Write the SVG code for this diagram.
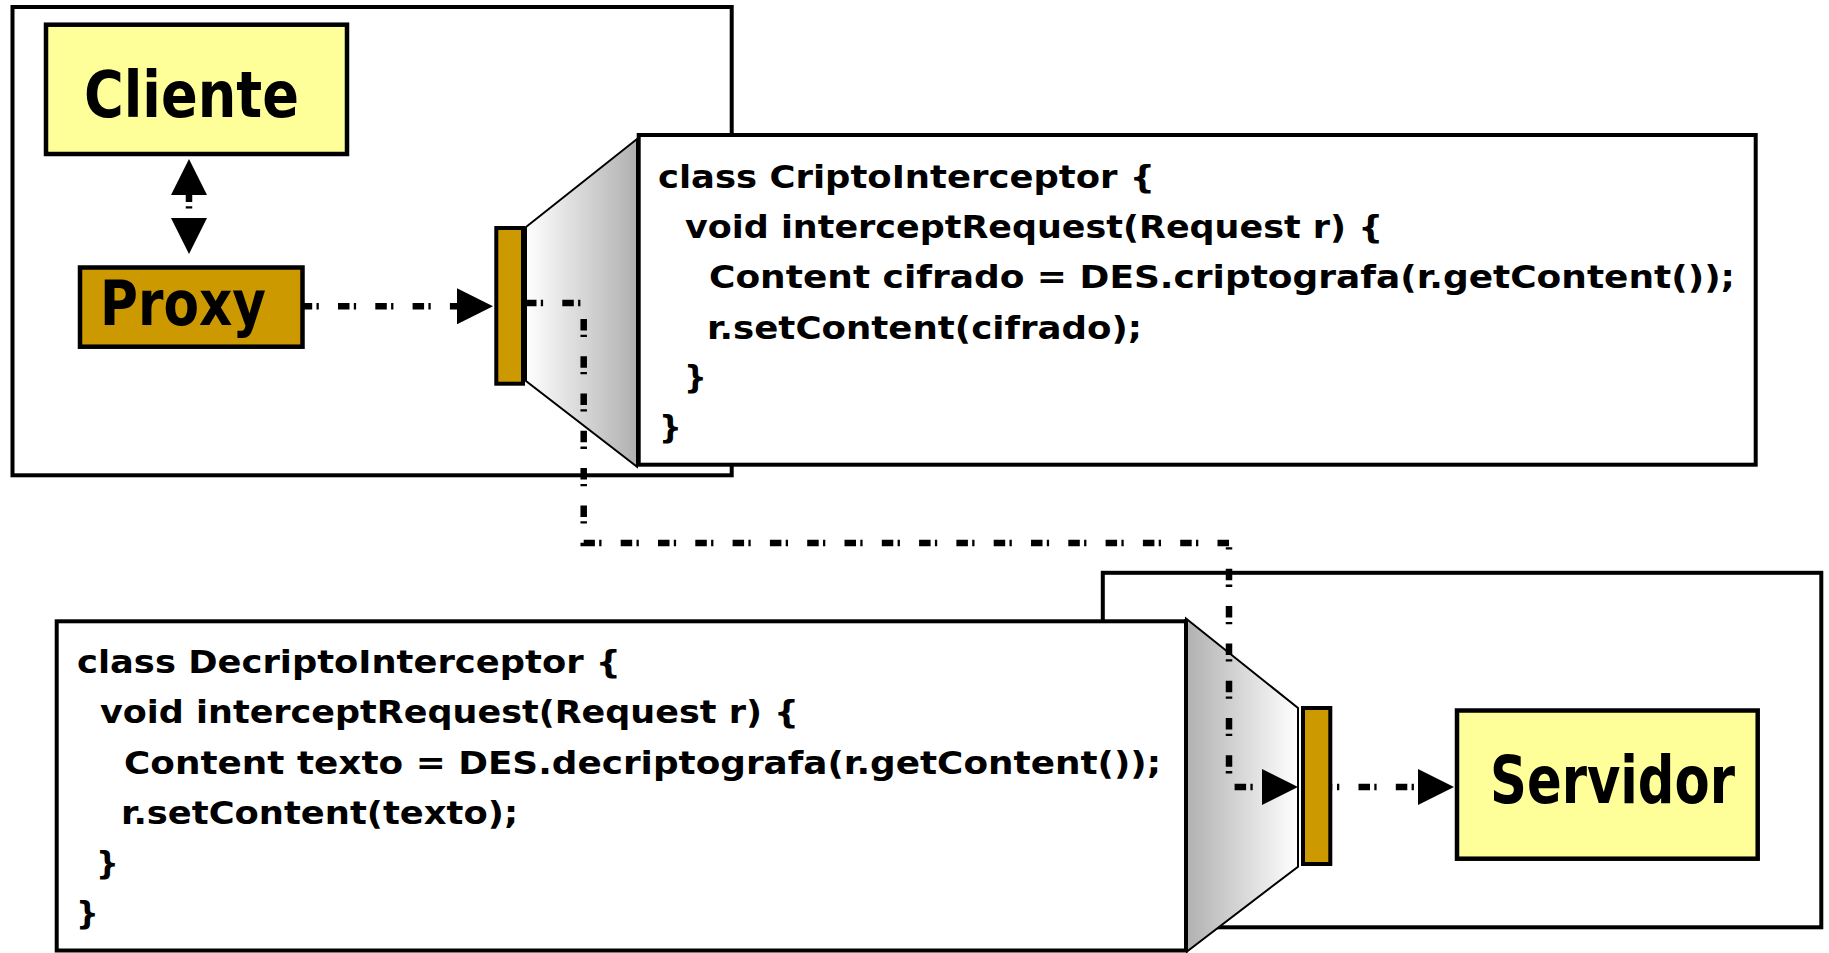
<svg xmlns="http://www.w3.org/2000/svg" width="1829" height="953" viewBox="0 0 1829 953">
  <style>
    .frame { fill: #ffffff; stroke: #000000; stroke-width: 4; }
    .code-box { fill: #ffffff; stroke: #000000; stroke-width: 4; }
    .light { fill: #ffff99; stroke: #000000; stroke-width: 4.5; }
    .gold { fill: #cc9900; stroke: #000000; stroke-width: 4.5; }
    .bar { fill: #cc9900; stroke: #000000; stroke-width: 4; }
    .funnel { stroke: #000000; stroke-width: 2; stroke-linejoin: miter; }
    .label { font-family: "DejaVu Sans", "Liberation Sans", sans-serif; font-weight: bold; fill: #000000; }
    .code { font-family: "DejaVu Sans", "Liberation Sans", sans-serif; font-weight: bold; font-size: 32px; fill: #000000; }
    .flow { fill: none; stroke: #000000; stroke-width: 6.5; stroke-linecap: butt; stroke-dasharray: 11.5 4.3 2.3 19.2; }
  </style>
  <defs>
    <marker id="head" markerUnits="userSpaceOnUse" viewBox="0 0 36 36" markerWidth="36" markerHeight="36" refX="0" refY="18" orient="auto-start-reverse">
      <path d="M0,0 L36,18 L0,36 Z" fill="#000000"/>
    </marker>
    <linearGradient id="fade-right" gradientUnits="userSpaceOnUse" x1="526" y1="0" x2="637" y2="0">
      <stop offset="0" stop-color="#ffffff"/>
      <stop offset="1" stop-color="#b0b0b0"/>
    </linearGradient>
    <linearGradient id="fade-left" gradientUnits="userSpaceOnUse" x1="1186" y1="0" x2="1298" y2="0">
      <stop offset="0" stop-color="#b0b0b0"/>
      <stop offset="1" stop-color="#ffffff"/>
    </linearGradient>
  </defs>

  <!-- client side container -->
  <g id="client-host">
    <rect class="frame" x="12.5" y="7" width="719.2" height="468.3"/>
  </g>

  <!-- server side container -->
  <g id="server-host">
    <rect class="frame" x="1102.8" y="572.8" width="718.5" height="354.5"/>
  </g>

  <!-- encrypting interceptor -->
  <g id="cripto-interceptor">
    <polygon class="funnel" fill="url(#fade-right)" points="526,227 637,139 637,466.7 526,381"/>
    <rect class="code-box" x="638.7" y="135" width="1117" height="329.7"/>
    <text class="code" x="658" y="188" textLength="497" lengthAdjust="spacingAndGlyphs">class CriptoInterceptor {</text>
    <text class="code" x="685" y="238" textLength="698" lengthAdjust="spacingAndGlyphs">void interceptRequest(Request r) {</text>
    <text class="code" x="709" y="288" textLength="1026" lengthAdjust="spacingAndGlyphs">Content cifrado = DES.criptografa(r.getContent());</text>
    <text class="code" x="707" y="339" textLength="435" lengthAdjust="spacingAndGlyphs">r.setContent(cifrado);</text>
    <text class="code" x="684" y="388">}</text>
    <text class="code" x="659" y="438">}</text>
    <rect class="bar" x="496.3" y="228" width="26.7" height="155.7"/>
  </g>

  <!-- decrypting interceptor -->
  <g id="decripto-interceptor">
    <rect class="code-box" x="56.7" y="621.3" width="1129.3" height="329.2"/>
    <polygon class="funnel" fill="url(#fade-left)" points="1186,618.5 1298,708 1298,866.7 1187,951.5"/>
    <line x1="1186" y1="619.3" x2="1186" y2="951.5" stroke="#000000" stroke-width="4"/>
    <text class="code" x="77" y="673" textLength="544" lengthAdjust="spacingAndGlyphs">class DecriptoInterceptor {</text>
    <text class="code" x="100" y="723" textLength="699" lengthAdjust="spacingAndGlyphs">void interceptRequest(Request r) {</text>
    <text class="code" x="124" y="774" textLength="1037" lengthAdjust="spacingAndGlyphs">Content texto = DES.decriptografa(r.getContent());</text>
    <text class="code" x="121" y="824" textLength="397" lengthAdjust="spacingAndGlyphs">r.setContent(texto);</text>
    <text class="code" x="96" y="874">}</text>
    <text class="code" x="76" y="924">}</text>
    <rect class="bar" x="1303" y="708" width="27.3" height="156"/>
  </g>

  <g id="cliente">
    <rect class="light" x="46" y="24.7" width="301" height="129.3"/>
    <text class="label" x="84" y="117" font-size="64" textLength="215" lengthAdjust="spacingAndGlyphs">Cliente</text>
  </g>

  <g id="proxy">
    <rect class="gold" x="80" y="267.5" width="222.5" height="79.2"/>
    <text class="label" x="100" y="325" font-size="62" textLength="166" lengthAdjust="spacingAndGlyphs">Proxy</text>
  </g>

  <g id="servidor">
    <rect class="light" x="1457" y="710.5" width="300.7" height="148.2"/>
    <text class="label" x="1490" y="803" font-size="65" textLength="245" lengthAdjust="spacingAndGlyphs">Servidor</text>
  </g>

  <!-- request flow -->
  <g id="connectors">
    <line class="flow" x1="189" y1="195" x2="189" y2="218" stroke-dashoffset="4.5" marker-start="url(#head)" marker-end="url(#head)"/>
    <line class="flow" x1="303" y1="306.3" x2="457" y2="306.3" stroke-dashoffset="2.3" marker-end="url(#head)"/>
    <polyline class="flow" points="525,303 583.7,303 583.7,543 1229,543 1229,787 1262,787" marker-end="url(#head)"/>
    <line class="flow" x1="1332.5" y1="787" x2="1418" y2="787" stroke-dashoffset="11.3" marker-end="url(#head)"/>
  </g>
</svg>
